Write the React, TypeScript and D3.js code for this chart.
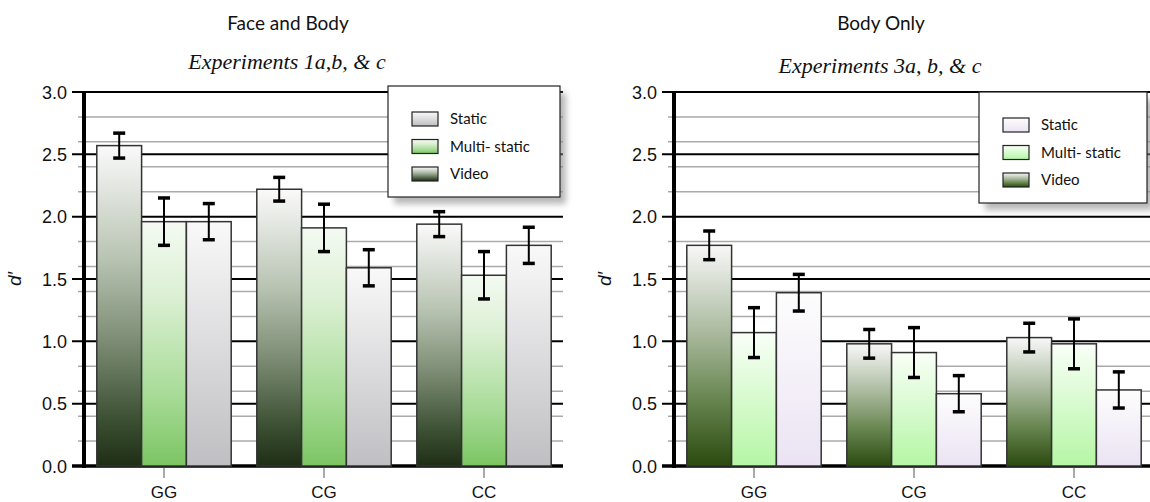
import * as d3 from 'd3'

const CATEGORIES = ['GG', 'CG', 'CC']
const SERIES = ['Video', 'Multi-static', 'Static']
const LEGEND_ORDER = ['Static', 'Multi- static', 'Video']
const Y_TICKS = [0, 0.5, 1, 1.5, 2, 2.5, 3]

// Face and Body (Experiments 1a,b, & c)
const FB_VIDEO = [2.57, 2.22, 1.94]
const FB_MULTI = [1.96, 1.91, 1.53]
const FB_STATIC = [1.96, 1.59, 1.77]
const FB_VIDEO_ERR = [0.1, 0.095, 0.1]
const FB_MULTI_ERR = [0.19, 0.19, 0.19]
const FB_STATIC_ERR = [0.145, 0.145, 0.145]

// Body Only (Experiments 3a, b, & c)
const BO_VIDEO = [1.77, 0.98, 1.03]
const BO_MULTI = [1.07, 0.91, 0.98]
const BO_STATIC = [1.39, 0.58, 0.61]
const BO_VIDEO_ERR = [0.115, 0.115, 0.115]
const BO_MULTI_ERR = [0.2, 0.2, 0.2]
const BO_STATIC_ERR = [0.147, 0.145, 0.145]

type Stop = [number, string]
interface PanelCfg {
  id: string
  title: string
  subtitle: string
  x0: number
  x1: number
  gridEnd: number
  subtitleX: number
  titleX: number
  values: number[][]
  errors: number[][]
  gradients: Stop[][]
  legend: { x: number; y: number; w: number; h: number }
}

const panels: PanelCfg[] = [
  {
    id: 'fb',
    title: 'Face and Body',
    subtitle: 'Experiments 1a,b, & c',
    x0: 84,
    x1: 564,
    gridEnd: 563,
    titleX: 288,
    subtitleX: 287,
    values: [FB_VIDEO, FB_MULTI, FB_STATIC],
    errors: [FB_VIDEO_ERR, FB_MULTI_ERR, FB_STATIC_ERR],
    gradients: [
      [[0, '#fafafa'], [0.35, '#b9c4b3'], [0.6, '#7f8f77'], [0.85, '#3d5134'], [1, '#1e2e15']],
      [[0, '#f4faf2'], [0.3, '#dcf0d4'], [0.7, '#a8dc98'], [1, '#7cc563']],
      [[0, '#f9f9f9'], [1, '#bfbfc3']],
    ],
    legend: { x: 388, y: 86, w: 172, h: 111 },
  },
  {
    id: 'bo',
    title: 'Body Only',
    subtitle: 'Experiments 3a, b, & c',
    x0: 674,
    x1: 1154,
    gridEnd: 1150,
    titleX: 881,
    subtitleX: 880,
    values: [BO_VIDEO, BO_MULTI, BO_STATIC],
    errors: [BO_VIDEO_ERR, BO_MULTI_ERR, BO_STATIC_ERR],
    gradients: [
      [[0, '#f8f8f8'], [0.4, '#a9b99d'], [0.7, '#67854f'], [1, '#2b4a10']],
      [[0, '#f9fff7'], [1, '#b5f6a5']],
      [[0, '#fdfdfd'], [1, '#ebe3f3']],
    ],
    legend: { x: 979, y: 92, w: 168, h: 111 },
  },
]

const y = d3.scaleLinear().domain([0, 3]).range([466, 92])
const minorTicks = y.ticks(12).filter(t => !Y_TICKS.includes(t))

function Panel({ p }: { p: PanelCfg }) {
  const x = d3.scaleBand<string>().domain(CATEGORIES).range([p.x0, p.x1]).paddingInner(0.16).paddingOuter(0.08)
  const xs = d3.scaleBand<string>().domain(SERIES).range([0, x.bandwidth()])
  const legendIdx = [2, 1, 0]
  return (
    <g>
      <defs>
        {p.gradients.map((stops, i) => (
          <linearGradient key={i} id={`${p.id}-g${i}`} x1="0" y1="0" x2="0" y2="1">
            {stops.map(([o, c], j) => <stop key={j} offset={o} stopColor={c} />)}
          </linearGradient>
        ))}
      </defs>
      <text x={p.titleX} y={30} textAnchor="middle" fontFamily="Lato" fontSize={19} fill="#111">{p.title}</text>
      <text x={p.subtitleX} y={p.id === 'fb' ? 69 : 73} textAnchor="middle" fontFamily="Liberation Serif" fontStyle="italic" fontSize={22} fill="#111">{p.subtitle}</text>

      {minorTicks.map(t => (
        <line key={'m' + t} x1={p.x0 - 6} x2={p.gridEnd} y1={y(t)} y2={y(t)} stroke="#aaa" strokeWidth={1.5} />
      ))}
      {Y_TICKS.map(t => (
        <g key={'M' + t}>
          <line x1={p.x0 - 12} x2={p.gridEnd} y1={y(t)} y2={y(t)} stroke="#000" strokeWidth={t === 0 ? 3.5 : 2} />
          <text x={p.x0 - 17} y={y(t) + 6.5} textAnchor="end" fontFamily="Liberation Sans" fontSize={18} fill="#111">{t.toFixed(1)}</text>
        </g>
      ))}
      <text transform={`translate(${p.x0 - 63},${y(1.5)}) rotate(-90)`} textAnchor="middle" fontFamily="Liberation Sans" fontStyle="italic" fontSize={19} fill="#111">d′</text>

      {CATEGORIES.map((c, ci) => (
        <g key={c}>
          {SERIES.map((s, si) => {
            const v = p.values[si][ci]
            const e = p.errors[si][ci]
            const bx = (x(c) as number) + (xs(s) as number)
            const bw = xs.bandwidth()
            const cx = bx + bw / 2
            return (
              <g key={s}>
                <rect x={bx} y={y(v)} width={bw} height={y(0) - y(v)} fill={`url(#${p.id}-g${si})`} stroke="#333" strokeWidth={1.5} />
                <line x1={cx} x2={cx} y1={y(v + e)} y2={y(v - e)} stroke="#000" strokeWidth={2} />
                <line x1={cx - 6} x2={cx + 6} y1={y(v + e)} y2={y(v + e)} stroke="#000" strokeWidth={3.5} />
                <line x1={cx - 6} x2={cx + 6} y1={y(v - e)} y2={y(v - e)} stroke="#000" strokeWidth={3.5} />
              </g>
            )
          })}
          <line x1={(x(c) as number) + x.bandwidth() / 2} x2={(x(c) as number) + x.bandwidth() / 2} y1={468} y2={478} stroke="#555" strokeWidth={1} />
          <text x={(x(c) as number) + x.bandwidth() / 2} y={498} textAnchor="middle" fontFamily="Liberation Sans" fontSize={17} fill="#111">{c}</text>
        </g>
      ))}

      <line x1={p.x0} x2={p.x0} y1={y(3) - 1} y2={y(0) + 2} stroke="#000" strokeWidth={4} />

      <rect x={p.legend.x + 6} y={p.legend.y + 7} width={p.legend.w} height={p.legend.h} fill="#888" opacity={0.6} filter="url(#shadow)" />
      <rect x={p.legend.x} y={p.legend.y} width={p.legend.w} height={p.legend.h} fill="#fff" stroke="#222" strokeWidth={1.2} />
      {LEGEND_ORDER.map((lab, i) => {
        const ly = p.legend.y + 26 + i * 27.5
        return (
          <g key={lab}>
            <rect x={p.legend.x + 24} y={ly} width={26} height={14} fill={`url(#${p.id}-g${legendIdx[i]})`} stroke="#222" strokeWidth={1.2} />
            <text x={p.legend.x + 62} y={ly + 12} fontFamily="Lato" fontSize={15} fill="#111">{lab}</text>
          </g>
        )
      })}
    </g>
  )
}

export default function App() {
  return (
    <svg width={1150} height={502} style={{ position: 'absolute', left: 0, top: 0, background: '#fff' }}>
      <defs>
        <filter id="shadow" x="-20%" y="-20%" width="140%" height="140%">
          <feGaussianBlur stdDeviation={3} />
        </filter>
      </defs>
      <rect width={1150} height={502} fill="#fff" />
      {panels.map(p => <Panel key={p.id} p={p} />)}
    </svg>
  )
}
